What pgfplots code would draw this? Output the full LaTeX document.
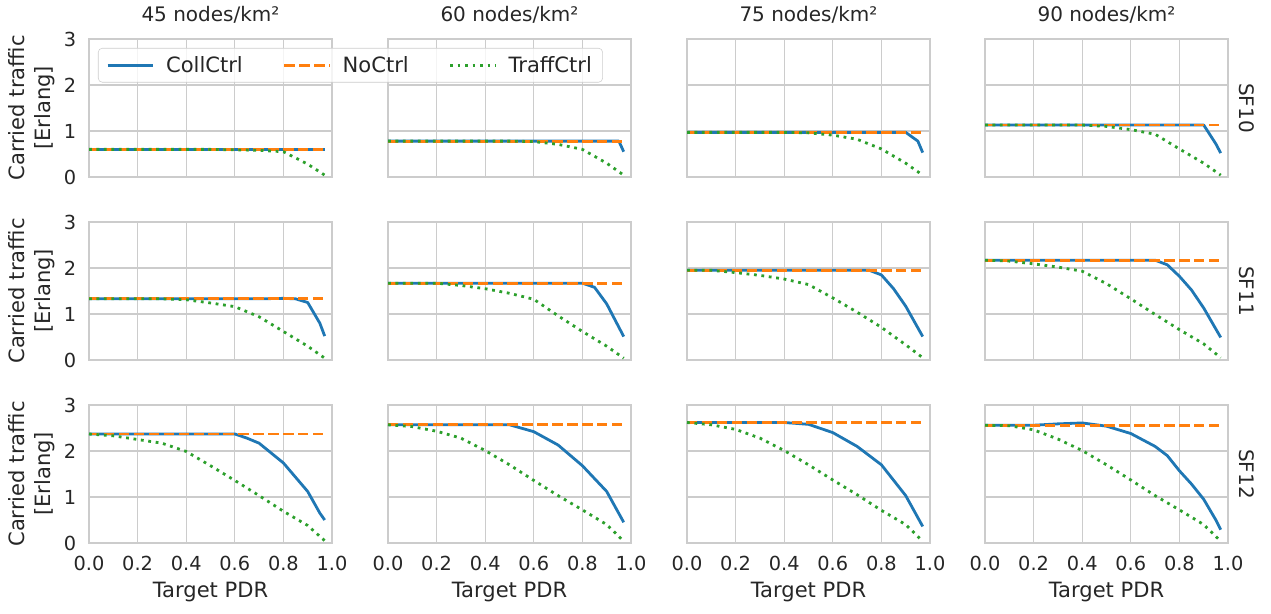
\documentclass[border=0pt]{standalone}
\usepackage{fontspec}
\setmainfont{DejaVu Sans}
\setsansfont{DejaVu Sans}
\usepackage{pgfplots}
\pgfplotsset{compat=1.18}
\definecolor{cblue}{HTML}{1F77B4}
\definecolor{corange}{HTML}{FF7F0E}
\definecolor{cgreen}{HTML}{2CA02C}
\definecolor{gridc}{HTML}{CCCCCC}
\definecolor{txt}{HTML}{262626}
\pgfplotsset{
 base/.style={scale only axis, width=182.25pt, height=103.5pt, anchor=north west,
  xmin=0, xmax=1, ymin=0, ymax=3,
  xtick={0,0.2,0.4,0.6,0.8,1}, ytick={0,1,2,3},
  grid=major, major grid style={draw=gridc, line width=1pt},
  axis line style={draw=gridc, line width=1pt},
  major tick length=0pt,
  xticklabels={}, yticklabels={},
  tick label style={font=\fontsize{14.5}{17}\selectfont, text=txt},
  xticklabel style={yshift=-6pt}, yticklabel style={xshift=-6pt},
  title style={font=\fontsize{15}{18}\selectfont, text=txt, yshift=2pt},
  label style={font=\fontsize{15.8}{19.5}\selectfont, text=txt},
  xlabel style={yshift=-2pt},
  clip=false,
  every axis plot/.append style={line width=2.1pt, line join=round}},
 xnums/.style={xticklabel={\pgfmathprintnumber[fixed,fixed zerofill,precision=1,assume math mode=true]{\tick}}, xlabel={Target PDR}},
 ynums/.style={yticklabel={\pgfmathprintnumber[assume math mode=true]{\tick}}, ylabel={Carried traffic\\{}[Erlang]}, ylabel style={align=center}},
 cs/.style={cblue},
 ns/.style={corange, dash pattern=on 7.8pt off 3.4pt},
 ts/.style={cgreen, dash pattern=on 2.1pt off 3.5pt},
}
\newcommand{\sflab}[1]{\node[rotate=-90, anchor=south, font=\fontsize{15}{18}\selectfont, text=txt] at ([xshift=5pt]rel axis cs:1,0.5) {#1};}
\begin{document}
\begin{tikzpicture}
\path[use as bounding box] (0pt,0pt) rectangle (953.25pt,-460.5pt);

% ---------- Row 1 (SF10) ----------
\begin{axis}[base, at={(291pt,-29.25pt)}, title={60 nodes/km²}]
\addplot[cs] coordinates {(0,0.78)(0.1,0.78)(0.2,0.78)(0.3,0.78)(0.4,0.78)(0.5,0.78)(0.6,0.78)(0.7,0.78)(0.8,0.78)(0.9,0.78)(0.95,0.78)(0.97,0.55)};
\addplot[ns] coordinates {(0,0.78)(0.2,0.78)(0.4,0.78)(0.6,0.78)(0.8,0.78)(0.97,0.78)};
\addplot[ts] coordinates {(0,0.78)(0.1,0.78)(0.2,0.78)(0.3,0.78)(0.4,0.78)(0.5,0.78)(0.6,0.77)(0.7,0.71)(0.8,0.60)(0.9,0.30)(0.97,0.04)};
\end{axis}
\begin{axis}[base, at={(515.25pt,-29.25pt)}, title={75 nodes/km²}]
\addplot[cs] coordinates {(0,0.97)(0.1,0.97)(0.2,0.97)(0.3,0.97)(0.4,0.97)(0.5,0.97)(0.6,0.97)(0.7,0.97)(0.8,0.97)(0.9,0.97)(0.95,0.78)(0.97,0.53)};
\addplot[ns] coordinates {(0,0.97)(0.2,0.97)(0.4,0.97)(0.6,0.97)(0.8,0.97)(0.97,0.97)};
\addplot[ts] coordinates {(0,0.97)(0.1,0.97)(0.2,0.97)(0.3,0.97)(0.4,0.97)(0.5,0.96)(0.6,0.91)(0.7,0.82)(0.8,0.61)(0.9,0.30)(0.97,0.04)};
\end{axis}
\begin{axis}[base, at={(738.75pt,-29.25pt)}, title={90 nodes/km²}]
\addplot[cs] coordinates {(0,1.13)(0.1,1.13)(0.2,1.13)(0.3,1.13)(0.4,1.13)(0.5,1.13)(0.6,1.13)(0.7,1.13)(0.8,1.13)(0.9,1.13)(0.95,0.72)(0.97,0.52)};
\addplot[ns] coordinates {(0,1.13)(0.2,1.13)(0.4,1.13)(0.6,1.13)(0.8,1.13)(0.97,1.13)};
\addplot[ts] coordinates {(0,1.13)(0.1,1.13)(0.2,1.13)(0.3,1.13)(0.4,1.13)(0.5,1.10)(0.6,1.03)(0.7,0.93)(0.8,0.61)(0.9,0.30)(0.97,0.04)};
\sflab{SF10}
\end{axis}

% ---------- Row 2 (SF11) ----------
\begin{axis}[base, ynums, at={(66.75pt,-166.5pt)}]
\addplot[cs] coordinates {(0,1.33)(0.1,1.33)(0.2,1.33)(0.3,1.33)(0.4,1.33)(0.5,1.33)(0.6,1.33)(0.7,1.33)(0.8,1.34)(0.85,1.33)(0.9,1.25)(0.95,0.80)(0.97,0.52)};
\addplot[ns] coordinates {(0,1.33)(0.2,1.33)(0.4,1.33)(0.6,1.33)(0.8,1.33)(0.97,1.33)};
\addplot[ts] coordinates {(0,1.33)(0.1,1.33)(0.2,1.33)(0.3,1.33)(0.4,1.31)(0.5,1.24)(0.6,1.16)(0.7,0.94)(0.8,0.62)(0.9,0.30)(0.97,0.04)};
\end{axis}
\begin{axis}[base, at={(291pt,-166.5pt)}]
\addplot[cs] coordinates {(0,1.67)(0.1,1.67)(0.2,1.67)(0.3,1.67)(0.4,1.67)(0.5,1.67)(0.6,1.67)(0.7,1.67)(0.8,1.67)(0.85,1.58)(0.9,1.22)(0.97,0.51)};
\addplot[ns] coordinates {(0,1.67)(0.2,1.67)(0.4,1.67)(0.6,1.67)(0.8,1.67)(0.97,1.67)};
\addplot[ts] coordinates {(0,1.67)(0.1,1.67)(0.2,1.67)(0.3,1.62)(0.4,1.55)(0.5,1.45)(0.6,1.32)(0.7,0.96)(0.8,0.62)(0.9,0.30)(0.97,0.04)};
\end{axis}
\begin{axis}[base, at={(515.25pt,-166.5pt)}]
\addplot[cs] coordinates {(0,1.95)(0.1,1.95)(0.2,1.95)(0.3,1.95)(0.4,1.95)(0.5,1.95)(0.6,1.95)(0.7,1.95)(0.75,1.95)(0.8,1.85)(0.85,1.55)(0.9,1.17)(0.97,0.51)};
\addplot[ns] coordinates {(0,1.95)(0.2,1.95)(0.4,1.95)(0.6,1.95)(0.8,1.95)(0.97,1.95)};
\addplot[ts] coordinates {(0,1.95)(0.1,1.95)(0.2,1.90)(0.3,1.84)(0.4,1.76)(0.5,1.64)(0.6,1.35)(0.7,1.04)(0.8,0.71)(0.9,0.33)(0.97,0.05)};
\end{axis}
\begin{axis}[base, at={(738.75pt,-166.5pt)}]
\addplot[cs] coordinates {(0,2.17)(0.1,2.17)(0.2,2.17)(0.3,2.17)(0.4,2.17)(0.5,2.17)(0.6,2.17)(0.7,2.17)(0.75,2.07)(0.8,1.82)(0.85,1.52)(0.9,1.13)(0.97,0.49)};
\addplot[ns] coordinates {(0,2.17)(0.2,2.17)(0.4,2.17)(0.6,2.17)(0.8,2.17)(0.97,2.17)};
\addplot[ts] coordinates {(0,2.17)(0.1,2.15)(0.2,2.09)(0.3,2.02)(0.4,1.93)(0.5,1.66)(0.6,1.33)(0.7,0.99)(0.8,0.66)(0.9,0.35)(0.97,0.05)};
\sflab{SF11}
\end{axis}

% ---------- Row 3 (SF12) ----------
\begin{axis}[base, ynums, xnums, at={(66.75pt,-303.75pt)}]
\addplot[cs] coordinates {(0,2.37)(0.1,2.37)(0.2,2.37)(0.3,2.37)(0.4,2.37)(0.5,2.37)(0.6,2.37)(0.65,2.28)(0.7,2.17)(0.8,1.74)(0.9,1.12)(0.95,0.65)(0.97,0.50)};
\addplot[ns] coordinates {(0,2.37)(0.2,2.37)(0.4,2.37)(0.6,2.37)(0.8,2.37)(0.97,2.37)};
\addplot[ts] coordinates {(0,2.37)(0.1,2.33)(0.2,2.25)(0.3,2.17)(0.4,1.99)(0.5,1.68)(0.6,1.36)(0.7,1.03)(0.8,0.69)(0.9,0.38)(0.97,0.05)};
\end{axis}
\begin{axis}[base, xnums, at={(291pt,-303.75pt)}]
\addplot[cs] coordinates {(0,2.57)(0.1,2.57)(0.2,2.57)(0.3,2.57)(0.4,2.57)(0.5,2.57)(0.6,2.42)(0.7,2.13)(0.8,1.68)(0.9,1.12)(0.97,0.45)};
\addplot[ns] coordinates {(0,2.57)(0.2,2.57)(0.4,2.57)(0.6,2.57)(0.8,2.57)(0.97,2.57)};
\addplot[ts] coordinates {(0,2.57)(0.1,2.53)(0.2,2.43)(0.3,2.28)(0.4,2.01)(0.5,1.70)(0.6,1.36)(0.7,1.03)(0.8,0.72)(0.9,0.40)(0.97,0.04)};
\end{axis}
\begin{axis}[base, xnums, at={(515.25pt,-303.75pt)}]
\addplot[cs] coordinates {(0,2.62)(0.1,2.62)(0.2,2.62)(0.3,2.62)(0.4,2.62)(0.5,2.58)(0.6,2.40)(0.7,2.10)(0.8,1.70)(0.9,1.03)(0.97,0.36)};
\addplot[ns] coordinates {(0,2.62)(0.2,2.62)(0.4,2.62)(0.6,2.62)(0.8,2.62)(0.97,2.62)};
\addplot[ts] coordinates {(0,2.62)(0.1,2.57)(0.2,2.47)(0.3,2.28)(0.4,2.01)(0.5,1.70)(0.6,1.37)(0.7,1.05)(0.8,0.71)(0.9,0.40)(0.97,0.04)};
\end{axis}
\begin{axis}[base, xnums, at={(738.75pt,-303.75pt)}]
\addplot[cs] coordinates {(0,2.56)(0.1,2.56)(0.2,2.56)(0.3,2.59)(0.4,2.61)(0.5,2.54)(0.6,2.38)(0.7,2.10)(0.75,1.90)(0.8,1.57)(0.85,1.28)(0.9,0.95)(0.95,0.50)(0.97,0.29)};
\addplot[ns] coordinates {(0,2.56)(0.2,2.56)(0.4,2.56)(0.6,2.56)(0.8,2.56)(0.97,2.56)};
\addplot[ts] coordinates {(0,2.56)(0.1,2.55)(0.2,2.46)(0.3,2.26)(0.4,2.01)(0.5,1.70)(0.6,1.37)(0.7,1.03)(0.8,0.72)(0.9,0.40)(0.97,0.04)};
\sflab{SF12}
\end{axis}

% ---------- Row 1, col 1 (drawn last so the legend sits on top) ----------
\begin{axis}[base, ynums, at={(66.75pt,-29.25pt)}, title={45 nodes/km²},
  legend columns=3, legend cell align=left,
  legend image code/.code={\draw[#1] (0pt,0pt) -- (33.75pt,0pt);},
  legend style={at={(0.037,0.935)}, anchor=north west, draw=gridc, fill=white, fill opacity=0.8, text opacity=1, rounded corners=3pt,
    font=\fontsize{15.8}{19}\selectfont, text=txt, inner xsep=6pt, inner ysep=4pt,
    /tikz/every odd column/.append style={column sep=7pt},
    /tikz/every even column/.append style={column sep=28pt}}]
\addplot[cs] coordinates {(0,0.60)(0.1,0.60)(0.2,0.60)(0.3,0.60)(0.4,0.60)(0.5,0.60)(0.6,0.60)(0.7,0.60)(0.8,0.60)(0.9,0.60)(0.95,0.60)(0.97,0.60)};
\addplot[ns] coordinates {(0,0.60)(0.2,0.60)(0.4,0.60)(0.6,0.60)(0.8,0.60)(0.97,0.60)};
\addplot[ts] coordinates {(0,0.60)(0.1,0.60)(0.2,0.60)(0.3,0.60)(0.4,0.60)(0.5,0.60)(0.6,0.59)(0.7,0.58)(0.8,0.55)(0.9,0.28)(0.97,0.04)};
\legend{CollCtrl,NoCtrl,TraffCtrl}
\end{axis}
\end{tikzpicture}
\end{document}
